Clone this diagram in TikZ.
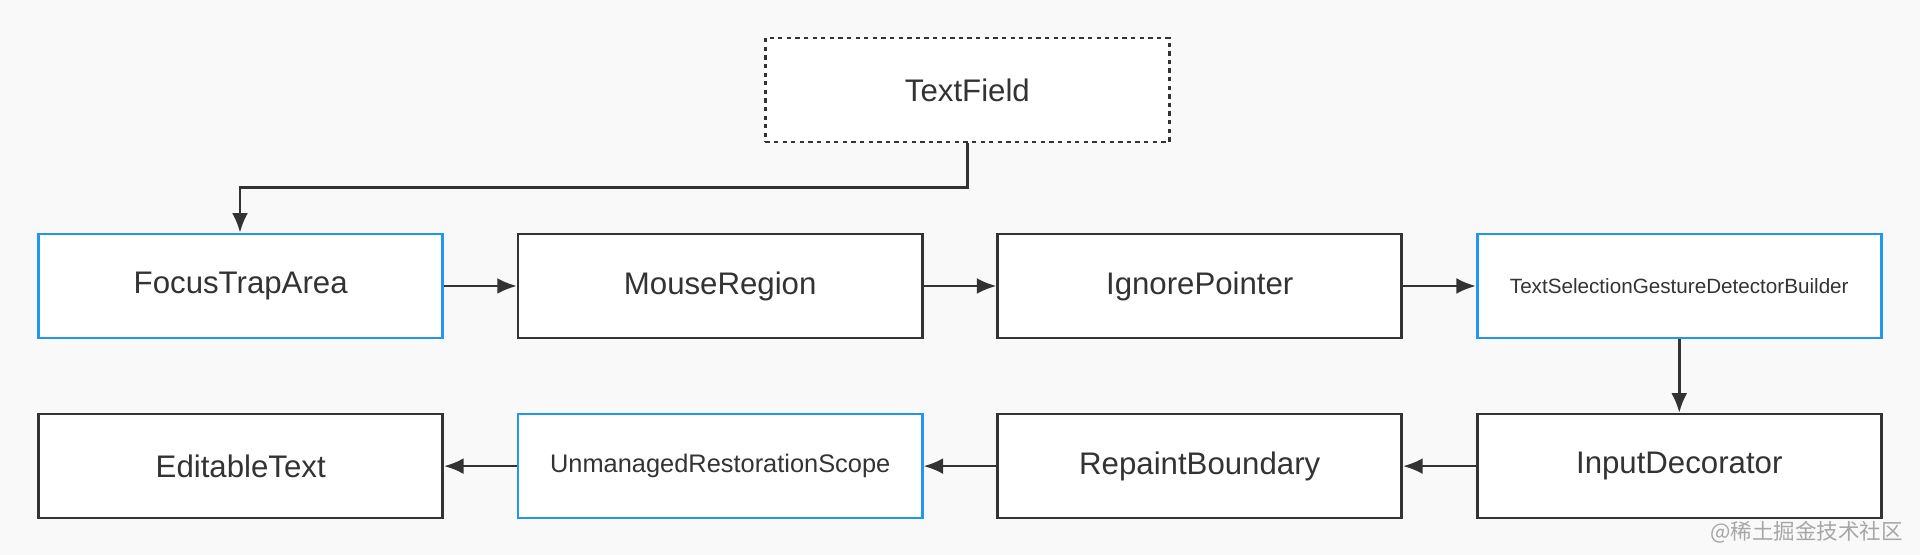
\documentclass[tikz,border=0pt]{standalone}
\usepackage{fontspec}
\setmainfont{Liberation Sans}
\newfontfamily\cjk{Noto Sans CJK SC}
\usetikzlibrary{arrows.meta,positioning}
\definecolor{bgcol}{HTML}{F9F9F9}
\definecolor{boxblue}{HTML}{2196F3}
\definecolor{linecol}{HTML}{333333}
\tikzset{
  widget/.style={
    rectangle,
    minimum width=6.6cm,
    minimum height=1.7cm,
    text centered,
    draw=linecol,
    line width=1.2pt,
    fill=white,
    font=\fontsize{14.5}{16}\selectfont,
    text=linecol
  },
  focus/.style={
    widget,
    draw=boxblue
  },
  root/.style={
    widget,
    dash pattern=on 2pt off 2pt
  },
  arrow/.style={
    line width=1.2pt,
    draw=linecol,
    -{Latex[length=3.2mm,width=2.6mm]},
  },
}
\begin{document}
\begin{tikzpicture}[
    node distance=1.2cm and 1.19cm,
  ]
  \fill[bgcol] (0,0) rectangle (31.36,-9.06);
  \useasboundingbox (0,0) rectangle (31.36,-9.06);

  % First row
  \node (focus_area) [focus, anchor=north west] at (0.61,-3.8) {FocusTrapArea};
  \node (mouse) [widget, right=of focus_area] {MouseRegion};
  \node (ignore) [widget, right=of mouse] {IgnorePointer};
  \node (gesture) [focus, right=of ignore, font=\fontsize{9.6}{11}\selectfont] {TextSelectionGestureDetectorBuilder};

  % Second row
  \node (decorator) [widget, below=of gesture] {InputDecorator};
  \node (repaint) [widget, left=of decorator] {RepaintBoundary};
  \node (restoration) [focus, left=of repaint, font=\fontsize{11.8}{13}\selectfont] {UnmanagedRestorationScope};
  \node (editable) [widget, left=of restoration] {EditableText};

  % Root
  \node (textfield) [root] at (15.8,-1.47) {TextField};
  \coordinate (bend) at (3.92,-3.06);

  % Arrows
  \draw [arrow] (textfield.south) |- (bend) -- (bend |- focus_area.north);
  \draw [arrow] (focus_area) -- (mouse);
  \draw [arrow] (mouse) -- (ignore);
  \draw [arrow] (ignore) -- (gesture);
  \draw [arrow] (gesture) -- (decorator);
  \draw [arrow] (decorator) -- (repaint);
  \draw [arrow] (repaint) -- (restoration);
  \draw [arrow] (restoration) -- (editable);

  \node (mark) [anchor=south east, text=gray!70, font=\cjk\fontsize{10}{12}\selectfont] at (31.2,-9.0) {@稀土掘金技术社区};
\end{tikzpicture}
\end{document}
